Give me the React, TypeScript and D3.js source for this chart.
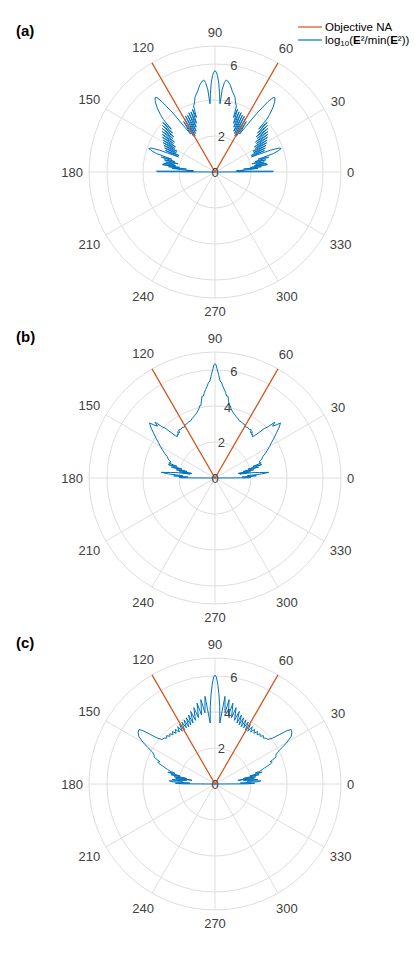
import React from 'react';
import * as d3 from 'd3';

// right half of each pattern (angle in degrees, log10 value); the left half is its mirror image
const patternA: [number, number][] = [
  [0, 0], [0.3, 3.2], [0.8, 3.25], [1.3, 2.1], [1.8, 1.2], [2.5, 1.6], [3.2, 1.2], [4, 1.9], [5, 2.4], [5.8, 1.6],
  [6.5, 2.6], [7.3, 2.0], [8, 2.95], [8.8, 2.2], [9.6, 2.9], [10.5, 2.3], [11.5, 2.8], [12.5, 2.1],
  [13.5, 2.9], [14.5, 2.3], [15.5, 3.1], [16.5, 2.5], [17.5, 3.4], [18.5, 3.7], [19.5, 3.9], [20.5, 3.8],
  [21.5, 3.3], [22.5, 2.2], [23.5, 3.0], [24.5, 2.2], [25.5, 3.1], [26.5, 2.4], [27.5, 3.2], [28.5, 2.4],
  [29.5, 3.3], [30.5, 2.6], [31.5, 3.4], [32.5, 2.6], [33.5, 3.5], [34.5, 2.8], [35.5, 3.6], [36.5, 2.8],
  [37.5, 3.7], [38.5, 3.0], [39.5, 3.8], [40.5, 3.0], [41.5, 3.9], [42.5, 3.2], [43.5, 4.0], [44.5, 3.4],
  [45.5, 4.1], [46.5, 4.4], [48, 4.8], [49.5, 5.1], [51, 5.3], [52, 5.25], [53, 4.9], [54.5, 4.0],
  [56, 3.0], [57.2, 2.5], [58.2, 3.3], [59.2, 2.3], [60.2, 3.4], [61.2, 2.3], [62.2, 3.5], [63.2, 2.4],
  [64.2, 3.5], [65.2, 2.5], [66.2, 3.6], [67.2, 2.7], [68.2, 3.6], [69.2, 2.9], [70.2, 3.7], [71.2, 3.2],
  [72, 3.85], [73, 3.95], [74, 4.1], [75, 4.3], [76, 4.4], [77, 4.5], [78, 4.6], [79, 4.75], [80, 4.9],
  [81, 5.0], [82, 5.1], [83, 5.15], [84, 5.0], [85, 4.6], [85.8, 3.8], [86.6, 4.3], [87.5, 4.9],
  [88.5, 5.35], [89.3, 5.55], [90, 5.63],
];

const patternB: [number, number][] = [
  [0, 0], [0.3, 1.9], [1, 2.0], [2, 1.5], [3, 2.3], [4, 1.8], [5, 2.6], [6, 3.0], [7, 2.5], [8, 2.2], [9, 1.4],
  [10, 2.0], [11, 1.3], [12, 2.2], [13, 1.6], [14, 2.5], [15, 1.9], [16, 2.7], [17, 2.2], [18, 2.7],
  [20, 2.6], [22, 2.8], [24, 2.9], [26, 3.1], [28, 3.3], [30, 3.5], [32, 3.7], [34, 3.95], [36, 4.2],
  [38, 4.5], [40, 4.75], [41, 4.5], [42, 4.3], [43, 4.55], [44, 4.1], [45, 3.9], [46, 3.5], [47, 3.2],
  [48, 3.1], [49, 3.2], [50, 3.15], [51, 3.3], [52, 3.2], [53, 3.35], [55, 3.3], [57, 3.35], [59, 3.3],
  [61, 3.4], [63, 3.4], [65, 3.45], [67, 3.45], [69, 3.55], [71, 3.6], [73, 3.7], [75, 3.8], [77, 3.95],
  [78, 4.1], [79, 4.1], [80, 4.35], [81, 4.6], [82, 4.6], [83, 4.8], [84, 4.95], [85, 5.1], [86, 5.3],
  [87, 5.4], [88, 5.75], [89, 6.1], [89.5, 6.3], [90, 6.35],
];

const patternC: [number, number][] = [
  [0, 0], [0.3, 1.8], [1, 2.2], [2, 1.4], [3, 2.4], [4, 2.55], [5, 1.8], [6, 2.4], [7, 1.6], [8, 2.2], [9, 1.3],
  [10, 2.3], [11, 1.6], [12, 2.5], [13, 2.0], [14, 2.7], [15, 2.3], [16, 2.6], [17, 2.75], [18, 2.9],
  [19, 3.1], [20, 3.3], [21, 3.4], [22, 3.3], [23, 3.55], [24, 3.7], [25.5, 3.75], [27, 3.9],
  [28.5, 4.25], [30, 4.6], [32, 5.0], [34, 5.15], [35.5, 5.2], [36.5, 5.0], [37.5, 4.5], [38.5, 4.1],
  [40, 3.85], [42, 3.8], [43.5, 3.7], [45, 3.8], [46.5, 3.65], [48, 3.75], [49.5, 3.6], [51, 3.75],
  [52.5, 3.55], [54, 3.75], [55.5, 3.5], [57, 3.8], [58.2, 3.45], [59.4, 3.85], [60.6, 3.45], [61.8, 3.9],
  [63, 3.5], [64.2, 3.95], [65.4, 3.5], [66.6, 4.0], [67.8, 3.55], [69, 4.1], [70.2, 3.6], [71.5, 4.25],
  [73, 3.7], [74.5, 4.4], [76, 3.8], [77.5, 4.6], [79, 3.9], [80.5, 4.75], [82, 4.0], [83.5, 4.9],
  [85.5, 3.4], [86.5, 4.3], [87.5, 5.0], [88.5, 5.6], [89.3, 5.95], [90, 6.05],
];

const panelLabels = ['(a)', '(b)', '(c)'];
const radialTicks = [0, 2, 4, 6];
const thetaTicks = d3.range(0, 360, 30);
const naAngles = [60, 120];
const rMax = 7;

const W = 415;
const H = 964;
const cx = 215;
const centersY = [172, 478, 784];
const blue = '#0072BD';
const orange = '#D95319';
const grid = '#dedede';
const textColor = '#404040';

const rad = (deg: number) => (deg * Math.PI) / 180;

function Polar({ cy, data, label }: { cy: number; data: [number, number][]; label: string }) {
  const r = d3.scaleLinear().domain([0, rMax]).range([0, 126]);
  const full: [number, number][] = [
    ...data,
    ...data.slice().reverse().map(([t, v]) => [180 - t, v] as [number, number]),
  ];
  const line = d3
    .lineRadial<[number, number]>()
    .angle((d) => rad(90 - d[0]))
    .radius((d) => r(d[1]));
  const naPath = line([[naAngles[0], rMax], [0, 0], [naAngles[1], rMax]]);

  return (
    <g>
      <text x={16} y={cy - 136} fontSize={15} fontWeight="bold" fill="#000">{label}</text>
      <g transform={`translate(${cx},${cy})`}>
        {[...radialTicks.filter((t) => t > 0), rMax].map((t) => (
          <circle key={t} r={r(t)} fill="none" stroke={grid} strokeWidth={1} />
        ))}
        {thetaTicks.map((t) => (
          <line key={t} x1={0} y1={0} x2={r(rMax) * Math.cos(rad(t))} y2={-r(rMax) * Math.sin(rad(t))}
            stroke={grid} strokeWidth={1} />
        ))}
        <path d={line(full) || ''} fill="none" stroke={blue} strokeWidth={1} strokeLinejoin="round" />
        <path d={naPath || ''} fill="none" stroke={orange} strokeWidth={1.2} />
        {thetaTicks.map((t) => {
          const s = String(t);
          const hw = s.length * 3.6;
          const hh = 7.5;
          const c = Math.cos(rad(t));
          const sn = Math.sin(rad(t));
          const d = r(rMax) + 6 + hw * Math.abs(c) + hh * Math.abs(sn);
          return (
            <text key={t} x={d * c} y={-d * sn} textAnchor="middle" dominantBaseline="central"
              fontSize={13} fill={textColor}>{s}</text>
          );
        })}
        {radialTicks.map((t) => (
          <text key={t} x={r(t) * Math.cos(rad(80))} y={-r(t) * Math.sin(rad(80))} textAnchor="middle"
            dominantBaseline="central" fontSize={13} fill={textColor}>{t}</text>
        ))}
      </g>
    </g>
  );
}

export default function App() {
  const patterns = [patternA, patternB, patternC];
  return (
    <svg width={W} height={H} style={{ position: 'absolute', left: 0, top: 0, background: '#fff' }}
      fontFamily="'Liberation Sans', Arial, Helvetica, sans-serif">
      {patterns.map((p, i) => (
        <Polar key={i} cy={centersY[i]} data={p} label={panelLabels[i]} />
      ))}
      <g fontSize={11.5} fill="#000">
        <line x1={298} x2={322} y1={27} y2={27} stroke={orange} strokeWidth={1.2} />
        <text x={325} y={27} dominantBaseline="central">Objective NA</text>
        <line x1={298} x2={322} y1={40} y2={40} stroke={blue} strokeWidth={1.2} />
        <text x={325} y={40} dominantBaseline="central">
          log<tspan fontSize={8} dy={3}>10</tspan>
          <tspan dy={-3}>(</tspan><tspan fontWeight="bold">E</tspan>²/min(<tspan fontWeight="bold">E</tspan>²))
        </text>
      </g>
    </svg>
  );
}
